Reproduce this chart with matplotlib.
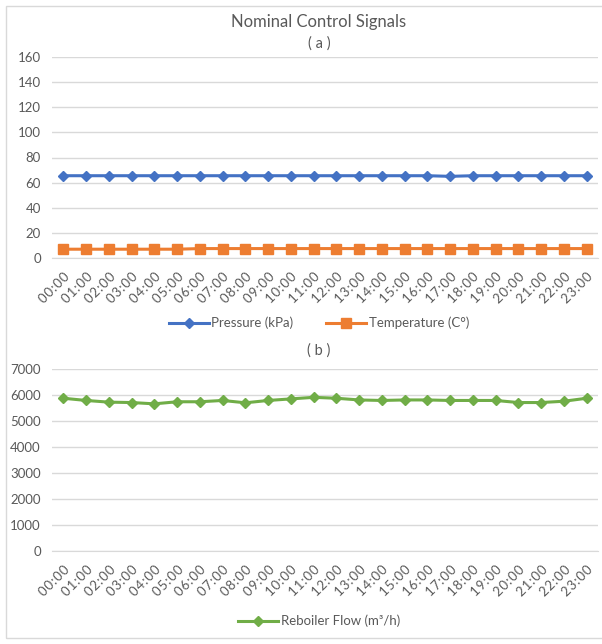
import matplotlib.pyplot as plt
from matplotlib.patches import Rectangle

# 데이터
hours = [f"{h:02d}:00" for h in range(24)]
pressure = [65.5, 65.5, 65.5, 65.5, 65.5, 65.5, 65.5, 65.5, 65.5, 65.5, 65.5, 65.5,
            65.5, 65.5, 65.5, 65.5, 65.5, 65.0, 65.5, 65.5, 65.5, 65.5, 65.5, 65.5]
temperature = [7.0, 7.0, 7.0, 7.0, 7.0, 7.0, 7.5, 7.5, 7.5, 7.5, 7.5, 7.5,
               7.5, 7.5, 7.5, 7.5, 7.5, 7.5, 7.5, 7.5, 7.5, 7.5, 7.5, 7.5]
reboiler_flow = [5875, 5790, 5725, 5710, 5660, 5740, 5740, 5790, 5700, 5790, 5850, 5910,
                 5875, 5810, 5790, 5810, 5810, 5790, 5790, 5790, 5710, 5710, 5760, 5875]

txt = "#595959"
grid = "#d9d9d9"
plt.rcParams["font.family"] = ["Lato", "DejaVu Sans"]

fig = plt.figure(figsize=(6.02, 6.44), dpi=100)
fig.patches.append(Rectangle((6 / 602, 6 / 644), 1.2, 632 / 644, transform=fig.transFigure,
                             fill=False, edgecolor=grid, linewidth=1))

ax1 = fig.add_axes([52 / 602, 1 - 258 / 644, 546 / 602, 201 / 644])
ax2 = fig.add_axes([52 / 602, 1 - 551 / 644, 546 / 602, 182 / 644])

x = list(range(len(hours)))
ax1.plot(x, pressure, color="#4472C4", lw=2.2, marker="D", ms=5.5, label="Pressure (kPa)")
ax1.plot(x, temperature, color="#ED7D31", lw=2.2, marker="s", ms=7.5, label="Temperature (C°)")
ax2.plot(x, reboiler_flow, color="#70AD47", lw=2.2, marker="D", ms=5.5, label="Reboiler Flow (m³/h)")

ax1.set_ylim(0, 160)
ax1.set_yticks(range(0, 161, 20))
ax2.set_ylim(0, 7000)
ax2.set_yticks(range(0, 7001, 1000))

# 눈금 라벨 글자 간격 조금 넓히기
spaced = ["\u200a".join(h) for h in hours]

for ax in (ax1, ax2):
    ax.set_xlim(-0.5, 23.5)
    ax.set_xticks(x)
    ax.set_xticklabels(spaced, rotation=45, ha="right", rotation_mode="anchor")
    ax.grid(axis="y", color=grid, lw=1)
    ax.set_axisbelow(True)
    for s in ("top", "right", "left"):
        ax.spines[s].set_visible(False)
    ax.spines["bottom"].set_color(grid)
    ax.tick_params(length=0, colors=txt, labelsize=9.5)
    ax.tick_params(axis="y", pad=8)
    ax.tick_params(axis="x", pad=9)

fig.text(0.53, 1 - 22 / 644, "Nominal Control Signals", ha="center", va="center", color=txt, fontsize=12)
fig.text(0.53, 1 - 44 / 644, "( a )", ha="center", va="center", color=txt, fontsize=10.5)
fig.text(0.53, 1 - 351 / 644, "( b )", ha="center", va="center", color=txt, fontsize=10.5)

leg1 = ax1.legend(loc="center", bbox_to_anchor=(0.53, 1 - 323 / 644), bbox_transform=fig.transFigure,
                  ncol=2, frameon=False, fontsize=9.5, handlelength=3, columnspacing=2.5, handletextpad=0.2)
leg2 = ax2.legend(loc="center", bbox_to_anchor=(0.53, 1 - 621 / 644), bbox_transform=fig.transFigure,
                  frameon=False, fontsize=9.5, handlelength=3, handletextpad=0.2)
for lg in (leg1, leg2):
    for t in lg.get_texts():
        t.set_color(txt)

plt.savefig("out.png")
plt.close()
